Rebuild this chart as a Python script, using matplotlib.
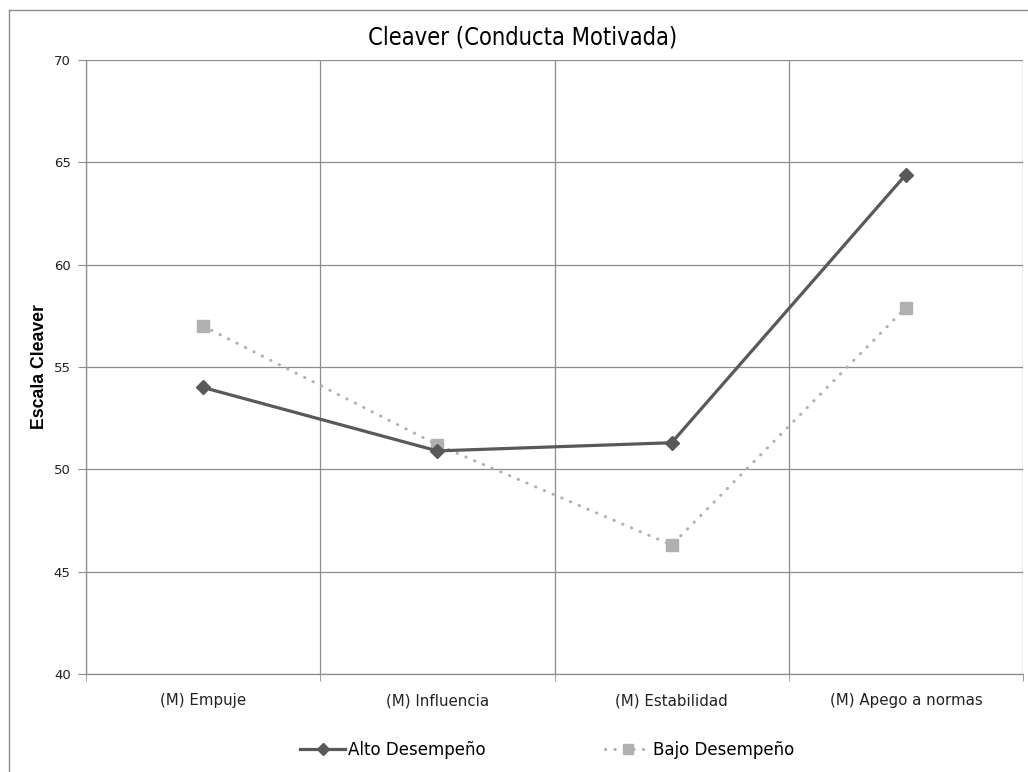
import matplotlib
matplotlib.use('Agg')
import matplotlib.pyplot as plt
from matplotlib.lines import Line2D
from matplotlib.ticker import FixedLocator

categories = ['(M) Empuje', '(M) Influencia', '(M) Estabilidad', '(M) Apego a normas']
alto = [54.0, 50.9, 51.3, 64.4]
bajo = [57.0, 51.2, 46.3, 57.9]
y_ticks = [40, 45, 50, 55, 60, 65, 70]

GRID = '#8c8c8c'
DARK = '#595959'
LIGHT = '#b0b0b0'

fig = plt.figure(figsize=(10.28, 7.72), dpi=100)
fig.patch.set_facecolor('white')

# chart frame (cut off on the right and bottom)
fig.add_artist(Line2D([9 / 1028, 1.0], [1 - 10 / 772] * 2, transform=fig.transFigure,
                      color=GRID, lw=1.0))
fig.add_artist(Line2D([9 / 1028] * 2, [0.0, 1 - 10 / 772], transform=fig.transFigure,
                      color=GRID, lw=1.0))

ax = fig.add_axes([86 / 1028, 1 - 674 / 772, (1023 - 86) / 1028, (674 - 60) / 772])
x = list(range(len(categories)))

ax.plot(x, alto, color=DARK, lw=2.3, marker='D', ms=7, mec=DARK, mfc=DARK,
        label='Alto Desempeño', zorder=4)
ax.plot(x, bajo, color=LIGHT, lw=2.2, ls=(0, (0.1, 3.0)), dash_capstyle='round',
        marker='s', ms=8.5, mec=LIGHT, mfc=LIGHT, label='Bajo Desempeño', zorder=3)

ax.set_xlim(-0.5, len(categories) - 0.5)
ax.set_ylim(40, 70)
ax.set_yticks(y_ticks)
ax.set_xticks(x)
ax.set_xticklabels(categories, fontsize=10.8, color='#222222')
ax.xaxis.set_minor_locator(FixedLocator([i - 0.5 for i in range(len(categories) + 1)]))
ax.tick_params(axis='x', which='major', length=0, pad=14)
ax.tick_params(axis='x', which='minor', length=5, color=GRID, direction='out')
ax.tick_params(axis='y', length=6, color=GRID, direction='out', labelsize=9.5,
               labelcolor='#222222', pad=5)

ax.grid(axis='y', which='major', color=GRID, lw=0.9)
ax.grid(axis='x', which='minor', color=GRID, lw=0.9)
for side in ['top', 'right']:
    ax.spines[side].set_visible(False)
for side in ['left', 'bottom']:
    ax.spines[side].set_color(GRID)
    ax.spines[side].set_linewidth(0.9)
ax.set_axisbelow(True)

ax.set_ylabel('Escala Cleaver', family='Liberation Sans', fontweight='bold',
              fontsize=12.7, labelpad=4)
fig.text(0.508, 1 - 37 / 772, 'Cleaver (Conducta Motivada)', ha='center', va='center',
         family=['DejaVu Sans Condensed', 'DejaVu Sans'], fontstretch='condensed',
         fontweight='normal', fontsize=17)

fig.legend(loc='center', bbox_to_anchor=(547 / 1028, 1 - 750 / 772), ncol=2,
           frameon=False, fontsize=12, handlelength=2.7, handletextpad=0.15,
           columnspacing=7.2, markerscale=0.85)

fig.savefig('out.png', dpi=100, facecolor='white')
